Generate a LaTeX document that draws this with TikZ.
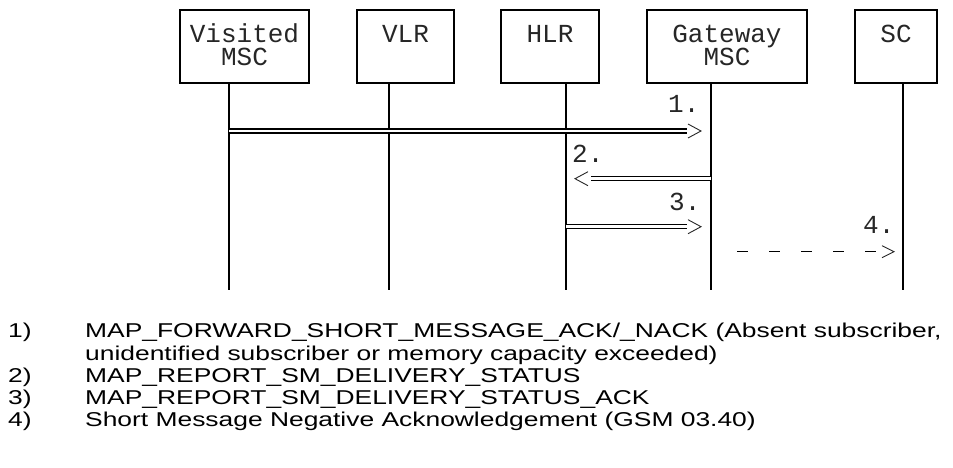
\documentclass[tikz,border=0pt]{standalone}
\usepackage{fontspec}
\setmainfont{Liberation Sans}
\newfontfamily\monofam{Liberation Mono}
\newfontfamily\legendfam[FakeStretch=1.32]{Liberation Sans}
\usetikzlibrary{calc}
\tikzset{
  ent/.style={draw, line width=1.8pt, inner sep=0pt},
  boxtext/.style={font=\monofam\fontsize{26}{23}\selectfont, text=black!85, anchor=base, align=center, inner sep=0pt},
  msglabel/.style={font=\monofam\fontsize{26}{23}\selectfont, text=black!85, anchor=base west, inner sep=0pt},
  life/.style={line width=1.2pt},
  tick/.style={line width=2.2pt},
  dbl/.style={double, line width=1.4pt, double distance=2.6pt},
  dsh/.style={line width=1.2pt, dash pattern=on 11pt off 21pt},
  chev/.style={line width=0.9pt, black!85},
  num/.style={font=\legendfam\fontsize{20}{22.3}\selectfont, anchor=base west, inner sep=0pt},
  desc/.style={font=\legendfam\fontsize{20}{22.3}\selectfont, anchor=base west, inner sep=0pt, align=left}
}
\newcommand\chevR[1]{\draw[chev] ($(#1)+(-13,-7)$) -- (#1) -- ($(#1)+(-13,7)$);}
\newcommand\chevL[1]{\draw[chev] ($(#1)+(13,-7)$) -- (#1) -- ($(#1)+(13,7)$);}
\begin{document}
\begin{tikzpicture}[x=1pt,y=-1pt]
\useasboundingbox (0,0) rectangle (953,468);
% entity boxes
\node[ent, minimum width=129pt, minimum height=73pt] (vmsc) at (244.5,46.5) {};
\node[ent, minimum width=97pt, minimum height=73pt] (vlr) at (405.5,46.5) {};
\node[ent, minimum width=98pt, minimum height=73pt] (hlr) at (550,46.5) {};
\node[ent, minimum width=160pt, minimum height=73pt] (gmsc) at (727,46.5) {};
\node[ent, minimum width=82pt, minimum height=73pt] (sc) at (896,46.5) {};
\node[boxtext] (vmscT) at (244.5,66) {Visited\\MSC};
\node[boxtext] (vlrT) at (405.5,43) {VLR};
\node[boxtext] (hlrT) at (550,43) {HLR};
\node[boxtext] (gmscT) at (727,66) {Gateway\\MSC};
\node[boxtext] (scT) at (896,43) {SC};
% lifelines
\coordinate (vmscB) at (229,290);
\coordinate (vlrB) at (389,290);
\coordinate (hlrB) at (566,290);
\coordinate (gmscB) at (711,290);
\coordinate (scB) at (903,290);
\draw[life] (vmsc.south -| vmscB) -- (vmscB);
\draw[life] (vlr.south -| vlrB) -- (vlrB);
\draw[life] (hlr.south -| hlrB) -- (hlrB);
\draw[life] (gmsc.south -| gmscB) -- (gmscB);
\draw[life] (sc.south -| scB) -- (scB);
% message 1
\coordinate (m1s) at (229,131);
\coordinate (m1e) at (701,131);
\draw[tick] ($(m1s)+(0,-12)$) -- ($(m1s)+(0,9)$);
\draw[dbl] (m1s) -- ($(m1e)+(-14,0)$);
\chevR{m1e}
\node[msglabel] (l1) at (668,113) {1.};
% message 2
\coordinate (m2s) at (711,178.7);
\coordinate (m2e) at (575,178.7);
\draw[tick] ($(m2s)+(0,-14)$) -- ($(m2s)+(0,14)$);
\draw[dbl] (m2s) -- ($(m2e)+(16,0)$);
\chevL{m2e}
\node[msglabel] (l2) at (572,162) {2.};
% message 3
\coordinate (m3s) at (566,226.7);
\coordinate (m3e) at (701,226.7);
\draw[tick] ($(m3s)+(0,-14)$) -- ($(m3s)+(0,14)$);
\draw[dbl] (m3s) -- ($(m3e)+(-14,0)$);
\chevR{m3e}
\node[msglabel] (l3) at (669,210) {3.};
% message 4
\coordinate (m4s) at (737,251.7);
\coordinate (m4e) at (894,251.7);
\draw[dsh] (m4s) -- ($(m4e)+(-18,0)$);
\draw[chev] ($(m4e)+(-12,-6)$) -- (m4e) -- ($(m4e)+(-12,6)$);
\node[msglabel] (l4) at (863,233) {4.};
% legend
\node[num] (n1) at (8,337.7) {1)};
\node[desc] (d1) at (85,360) {MAP\_FORWARD\_SHORT\_MESSAGE\_ACK/\_NACK (Absent subscriber,\\unidentified subscriber or memory capacity exceeded)};
\node[num] (n2) at (8,382) {2)};
\node[desc] (d2) at (85,382) {MAP\_REPORT\_SM\_DELIVERY\_STATUS};
\node[num] (n3) at (8,404.2) {3)};
\node[desc] (d3) at (85,404.2) {MAP\_REPORT\_SM\_DELIVERY\_STATUS\_ACK};
\node[num] (n4) at (8,426.5) {4)};
\node[desc] (d4) at (85,426.5) {Short Message Negative Acknowledgement (GSM 03.40)};
\end{tikzpicture}
\end{document}
